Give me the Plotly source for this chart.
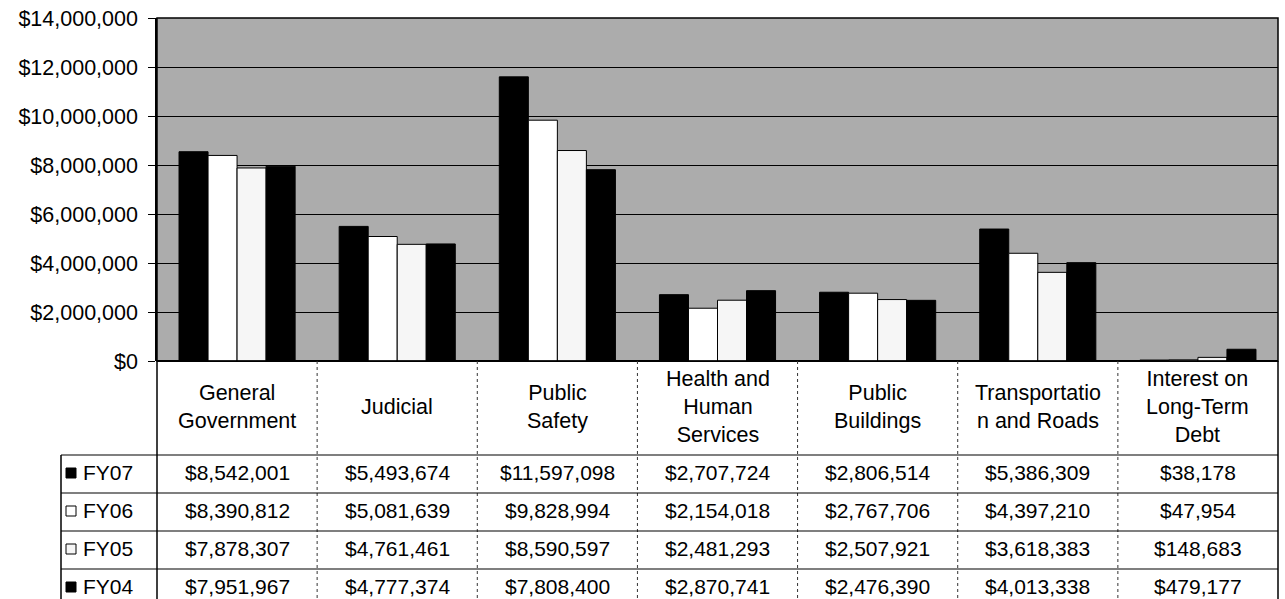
import plotly.graph_objects as go

categories = ["General Government", "Judicial", "Public Safety", "Health and Human Services",
              "Public Buildings", "Transportation and Roads", "Interest on Long-Term Debt"]
header_labels = ["General<br>Government", "Judicial", "Public<br>Safety", "Health and<br>Human<br>Services",
                 "Public<br>Buildings", "Transportatio<br>n and Roads", "Interest on<br>Long-Term<br>Debt"]
series_names = ["FY07", "FY06", "FY05", "FY04"]
fy07 = [8542001, 5493674, 11597098, 2707724, 2806514, 5386309, 38178]
fy06 = [8390812, 5081639, 9828994, 2154018, 2767706, 4397210, 47954]
fy05 = [7878307, 4761461, 8590597, 2481293, 2507921, 3618383, 148683]
fy04 = [7951967, 4777374, 7808400, 2870741, 2476390, 4013338, 479177]
series_values = [fy07, fy06, fy05, fy04]
colors = ["#000000", "#ffffff", "#f6f6f6", "#000000"]
tick_vals = [0, 2000000, 4000000, 6000000, 8000000, 10000000, 12000000, 14000000]
tick_text = ["$0", "$2,000,000", "$4,000,000", "$6,000,000", "$8,000,000",
             "$10,000,000", "$12,000,000", "$14,000,000"]

W, H = 1285, 599
FONT = "Liberation Sans, Arial, sans-serif"
FS = 21.5
FS_ROW = 21


def xp(px):
    return px / W


def yp(py):
    return 1 - py / H


plot_left, plot_right, plot_top, plot_bottom = 157, 1278, 18, 361
header_bottom = 455
row_h = 38
legend_left = 61

fig = go.Figure()
for name, vals, col in zip(series_names, series_values, colors):
    fig.add_trace(go.Bar(
        x=categories, y=vals, name=name,
        marker=dict(color=col, line=dict(color="#000000", width=1)),
        showlegend=False,
    ))

shapes = []
annotations = []

shapes.append(dict(type="rect", xref="paper", yref="paper",
                   x0=xp(plot_left), x1=xp(plot_right), y0=yp(plot_bottom), y1=yp(plot_top),
                   line=dict(color="#000000", width=1.5), layer="above"))

table_bottom = header_bottom + row_h * 4
shapes.append(dict(type="line", xref="paper", yref="paper",
                   x0=xp(plot_left), x1=xp(plot_left), y0=yp(plot_bottom), y1=yp(table_bottom),
                   line=dict(color="#000000", width=1.5)))
shapes.append(dict(type="line", xref="paper", yref="paper",
                   x0=xp(plot_right), x1=xp(plot_right), y0=yp(plot_bottom), y1=yp(table_bottom),
                   line=dict(color="#000000", width=1.5)))
shapes.append(dict(type="line", xref="paper", yref="paper",
                   x0=xp(legend_left), x1=xp(legend_left), y0=yp(header_bottom), y1=yp(table_bottom),
                   line=dict(color="#000000", width=1.5)))
for i in range(1, len(categories)):
    shapes.append(dict(type="line", xref="x", yref="paper",
                       x0=i - 0.5, x1=i - 0.5, y0=yp(plot_bottom), y1=yp(table_bottom),
                       line=dict(color="#333333", width=1, dash="dot")))
for r in range(4):
    y = header_bottom + r * row_h
    shapes.append(dict(type="line", xref="paper", yref="paper",
                       x0=xp(legend_left), x1=xp(plot_right), y0=yp(y), y1=yp(y),
                       line=dict(color="#000000", width=1.2)))

for i, lab in enumerate(header_labels):
    annotations.append(dict(x=i, y=yp(407), xref="x", yref="paper", text=lab,
                            showarrow=False, font=dict(family=FONT, size=FS, color="#000000"),
                            align="center", xanchor="center", yanchor="middle"))

for r, (name, vals, col) in enumerate(zip(series_names, series_values, colors)):
    yc = header_bottom + r * row_h + row_h / 2
    yt = yc - 2
    for i, v in enumerate(vals):
        annotations.append(dict(x=i, y=yp(yt), xref="x", yref="paper", text=f"${v:,}",
                                showarrow=False, font=dict(family=FONT, size=FS_ROW, color="#000000"),
                                xanchor="center", yanchor="middle"))
    annotations.append(dict(x=xp(81), y=yp(yt), xref="paper", yref="paper", text=name,
                            showarrow=False, font=dict(family=FONT, size=FS_ROW, color="#000000"),
                            xanchor="left", yanchor="middle"))
    shapes.append(dict(type="rect", xref="paper", yref="paper",
                       x0=xp(66), x1=xp(76), y0=yp(yc + 4), y1=yp(yc - 6),
                       fillcolor=col, line=dict(color="#000000", width=1)))

fig.update_layout(
    width=W, height=H,
    margin=dict(l=0, r=0, t=0, b=0, autoexpand=False),
    paper_bgcolor="#ffffff",
    plot_bgcolor="#acacac",
    barmode="group",
    bargap=0.275,
    bargroupgap=0,
    shapes=shapes,
    annotations=annotations,
    font=dict(family=FONT, size=FS, color="#000000"),
    xaxis=dict(domain=[xp(plot_left), xp(plot_right)], range=[-0.5, 6.5], automargin=False,
               showticklabels=False, showgrid=False, zeroline=False, ticks=""),
    yaxis=dict(domain=[yp(plot_bottom), yp(plot_top)], range=[0, 14000000], automargin=False,
               tickvals=tick_vals, ticktext=tick_text, ticks="outside", ticklen=7,
               tickcolor="#000000", showgrid=True, gridcolor="#000000", gridwidth=1,
               zeroline=True, zerolinecolor="#000000", zerolinewidth=1.5,
               showline=True, linecolor="#000000", linewidth=1.5,
               ticklabelstandoff=6,
               tickfont=dict(family=FONT, size=FS, color="#000000")),
)

fig.write_html("out.html")
